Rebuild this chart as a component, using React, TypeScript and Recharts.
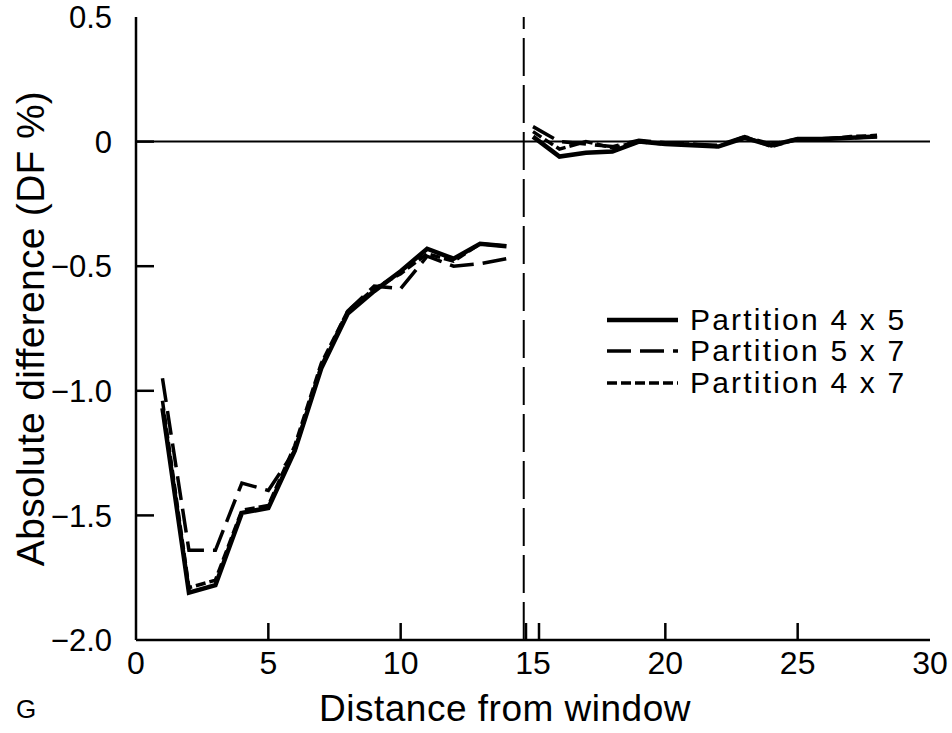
import { LineChart, Line, XAxis, YAxis, ReferenceLine } from "recharts";

// distance from window, panel before and after the break
const xLeft = [1, 2, 3, 4, 5, 6, 7, 8, 9, 10, 11, 12, 13, 14];
const xRight = [15, 16, 17, 18, 19, 20, 21, 22, 23, 24, 25, 26, 27, 28];

const p45Left = [-1.07, -1.81, -1.78, -1.49, -1.47, -1.24, -0.91, -0.69, -0.6, -0.52, -0.43, -0.47, -0.41, -0.42];
const p57Left = [-0.95, -1.64, -1.64, -1.37, -1.4, -1.24, -0.9, -0.68, -0.58, -0.59, -0.46, -0.5, -0.49, -0.47];
const p47Left = [-1.04, -1.79, -1.76, -1.48, -1.46, -1.22, -0.89, -0.68, -0.59, -0.53, -0.45, -0.48, -0.41, -0.42];

const p45Right = [0.02, -0.06, -0.045, -0.04, 0.0, -0.01, -0.015, -0.02, 0.015, -0.015, 0.01, 0.01, 0.015, 0.02];
const p57Right = [0.06, 0.0, -0.01, -0.02, 0.005, -0.005, -0.01, -0.015, 0.02, -0.01, 0.01, 0.012, 0.015, 0.02];
const p47Right = [0.04, -0.03, 0.0, -0.025, 0.0, -0.01, -0.01, -0.02, 0.02, -0.02, 0.01, 0.01, 0.02, 0.025];

const xTicks = [0, 5, 10, 15, 20, 25, 30];
const yTicks = [0.5, 0, -0.5, -1, -1.5, -2];
const breakAt = 14.65;

const data = [
  ...xLeft.map((x, i) => ({ x, p45: p45Left[i], p57: p57Left[i], p47: p47Left[i] })),
  { x: 14.5, p45: null, p57: null, p47: null },
  ...xRight.map((x, i) => ({ x, p45: p45Right[i], p57: p57Right[i], p47: p47Right[i] })),
];

const FONT = "'Liberation Sans', Arial, Helvetica, sans-serif";
const NARROW = "'Liberation Sans Narrow', 'Liberation Sans', Arial, sans-serif";

const fmtY = (v: number) => (v === 0 ? "0" : v.toFixed(1).replace("-", "\u2212"));

const tickMarks = (v: number, pos: number) => {
  if (v === 0 || v === 30) return [];
  if (v === 15) return [pos - 7, pos + 6];
  return [pos];
};

function BottomTick({ x, y, payload }: any) {
  const v = payload.value;
  return (
    <g>
      {tickMarks(v, x).map((m, i) => (
        <line key={i} x1={m} x2={m} y1={y} y2={y - 17} stroke="#000" strokeWidth={2.5} />
      ))}
      <text x={x} y={y + 34} textAnchor="middle" fontSize={32} fontFamily={NARROW} fill="#000">
        {v}
      </text>
    </g>
  );
}

function TopTick({ x, y, payload }: any) {
  return (
    <g>
      {tickMarks(payload.value, x).map((m, i) => (
        <line key={i} x1={m} x2={m} y1={y} y2={y + 15} stroke="#000" strokeWidth={2.5} />
      ))}
    </g>
  );
}

function LeftTick({ x, y, payload }: any) {
  const v = payload.value;
  const edge = v === 0.5 || v === -2;
  return (
    <g>
      {!edge && <line x1={x} x2={x + 18} y1={y} y2={y} stroke="#000" strokeWidth={2.5} />}
      <text x={x - 24} y={y} dy="0.36em" textAnchor="end" fontSize={31} fontFamily={FONT} fill="#000">
        {fmtY(v)}
      </text>
    </g>
  );
}

function RightTick({ x, y, payload }: any) {
  const v = payload.value;
  if (v === 0.5 || v === -2) return <g />;
  return <line x1={x} x2={x - 12} y1={y} y2={y} stroke="#000" strokeWidth={2.5} />;
}

const legendRows = [
  { name: "Partition 4 x 5", dash: undefined, width: 4.5 },
  { name: "Partition 5 x 7", dash: "24 9", width: 3.5 },
  { name: "Partition 4 x 7", dash: "10 4", width: 3.5 },
];

export default function App() {
  return (
    <div style={{ position: "fixed", left: 0, top: 0, width: 952, height: 733, background: "#fff", fontFamily: FONT }}>
      <LineChart width={952} height={733} data={data} margin={{ top: 17, right: 22, left: 0, bottom: 0 }}>
        <XAxis
          dataKey="x"
          type="number"
          domain={[0, 30]}
          ticks={xTicks}
          interval={0}
          height={93}
          tickLine={false}
          tickSize={0}
          tickMargin={0}
          tick={<BottomTick />}
          axisLine={{ stroke: "#000", strokeWidth: 2.5 }}
          allowDataOverflow
          label={{
            value: "Distance from window",
            position: "insideBottom",
            offset: 12,
            dx: -28,
            style: { fontSize: 37, letterSpacing: 0.5, fontFamily: FONT, fill: "#000" },
          }}
        />
        <XAxis
          xAxisId="top"
          orientation="top"
          type="number"
          domain={[0, 30]}
          ticks={xTicks}
          interval={0}
          height={0}
          tickLine={false}
          tickSize={0}
          tickMargin={0}
          tick={<TopTick />}
          axisLine={{ stroke: "#000", strokeWidth: 2.5 }}
          allowDataOverflow
        />
        <YAxis
          type="number"
          domain={[-2, 0.5]}
          ticks={yTicks}
          interval={0}
          width={136}
          tickLine={false}
          tickSize={0}
          tickMargin={0}
          tick={<LeftTick />}
          axisLine={{ stroke: "#000", strokeWidth: 2.5 }}
          allowDataOverflow
          label={{
            value: "Absolute difference (DF %)",
            angle: -90,
            position: "insideLeft",
            offset: 30,
            style: { fontSize: 39, letterSpacing: 0.3, fontFamily: FONT, fill: "#000", textAnchor: "middle" },
          }}
        />
        <YAxis
          yAxisId="right"
          orientation="right"
          type="number"
          domain={[-2, 0.5]}
          ticks={yTicks}
          interval={0}
          width={0}
          tickLine={false}
          tickSize={0}
          tickMargin={0}
          tick={<RightTick />}
          axisLine={{ stroke: "#000", strokeWidth: 2.5 }}
          allowDataOverflow
        />
        <ReferenceLine y={0} stroke="#000" strokeWidth={2} />
        <ReferenceLine x={breakAt} stroke="#000" strokeWidth={2} strokeDasharray="38 9" />
        <Line type="linear" dataKey="p47" stroke="#000" strokeWidth={3.5} strokeDasharray="10 4" dot={false} connectNulls={false} isAnimationActive={false} />
        <Line type="linear" dataKey="p57" stroke="#000" strokeWidth={3.5} strokeDasharray="24 9" dot={false} connectNulls={false} isAnimationActive={false} />
        <Line type="linear" dataKey="p45" stroke="#000" strokeWidth={4.5} dot={false} connectNulls={false} isAnimationActive={false} />
      </LineChart>

      <div style={{ position: "absolute", left: 604, top: 304 }}>
        {legendRows.map((r) => (
          <div key={r.name} style={{ display: "flex", alignItems: "center", height: 31.5 }}>
            <svg width={76} height={12} style={{ marginRight: 10 }}>
              <line x1={3} x2={74} y1={6} y2={6} stroke="#000" strokeWidth={r.width} strokeDasharray={r.dash} />
            </svg>
            <span style={{ fontSize: 30, letterSpacing: 2.2, lineHeight: "30px", color: "#000", whiteSpace: "nowrap" }}>{r.name}</span>
          </div>
        ))}
      </div>

      <div style={{ position: "absolute", left: 16, top: 694, fontSize: 26, fontFamily: NARROW, color: "#000" }}>G</div>
    </div>
  );
}
